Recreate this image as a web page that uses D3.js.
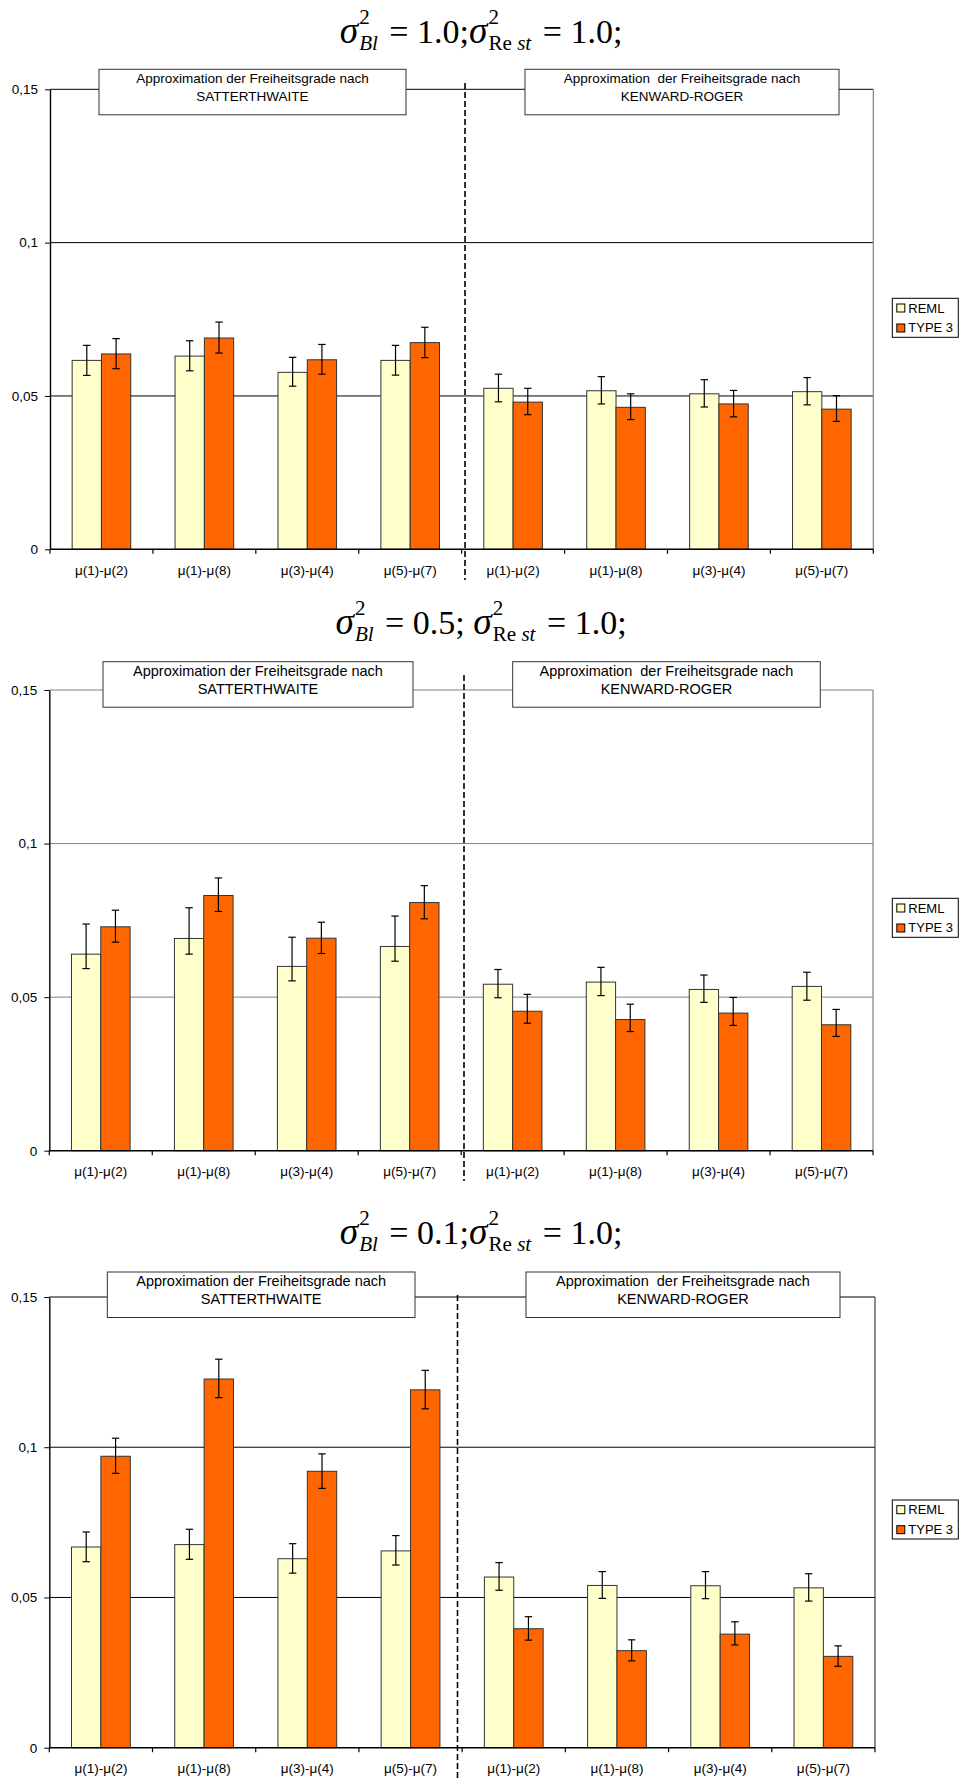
<!DOCTYPE html>
<html>
<head>
<meta charset="utf-8">
<script src="https://cdn.jsdelivr.net/npm/d3@7"></script>
<style>
  body { margin: 0; background: #fff; }
  svg { display: block; }
</style>
</head>
<body>
<div id="chart"></div>
<script>
// categories, series and axis labels
var categories = ["μ(1)-μ(2)", "μ(1)-μ(8)", "μ(3)-μ(4)", "μ(5)-μ(7)",
                  "μ(1)-μ(2) ", "μ(1)-μ(8) ", "μ(3)-μ(4) ", "μ(5)-μ(7) "];
var seriesNames = ["REML", "TYPE 3"];
var yTicks = [0, 0.05, 0.1, 0.15];
var yTickLabels = ["0", "0,05", "0,1", "0,15"];
var blockValues = ["1.0", "0.5", "0.1"];
var restValue = "1.0";
var methodLines = [["Approximation der Freiheitsgrade nach", "SATTERTHWAITE"],
                   ["Approximation  der Freiheitsgrade nach", "KENWARD-ROGER"]];

// sigma_Bl = 1.0
var reml1    = [0.0616, 0.0630, 0.0577, 0.0616, 0.0525, 0.0517, 0.0507, 0.0514];
var reml1Lo  = [0.0567, 0.0582, 0.0532, 0.0568, 0.0481, 0.0474, 0.0464, 0.0471];
var reml1Hi  = [0.0665, 0.0680, 0.0626, 0.0665, 0.0571, 0.0563, 0.0553, 0.0560];
var type31   = [0.0637, 0.0689, 0.0618, 0.0674, 0.0480, 0.0463, 0.0474, 0.0457];
var type31Lo = [0.0589, 0.0640, 0.0571, 0.0625, 0.0439, 0.0423, 0.0432, 0.0417];
var type31Hi = [0.0687, 0.0741, 0.0668, 0.0724, 0.0525, 0.0507, 0.0518, 0.0501];

// sigma_Bl = 0.5
var reml2    = [0.0640, 0.0691, 0.0600, 0.0665, 0.0542, 0.0549, 0.0525, 0.0535];
var reml2Lo  = [0.0593, 0.0640, 0.0553, 0.0617, 0.0498, 0.0505, 0.0483, 0.0490];
var reml2Hi  = [0.0738, 0.0791, 0.0695, 0.0764, 0.0590, 0.0597, 0.0572, 0.0581];
var type32   = [0.0729, 0.0831, 0.0692, 0.0808, 0.0454, 0.0427, 0.0448, 0.0410];
var type32Lo = [0.0679, 0.0779, 0.0642, 0.0755, 0.0415, 0.0388, 0.0408, 0.0372];
var type32Hi = [0.0783, 0.0888, 0.0744, 0.0863, 0.0509, 0.0477, 0.0499, 0.0460];

// sigma_Bl = 0.1
var reml3    = [0.0668, 0.0676, 0.0629, 0.0655, 0.0568, 0.0540, 0.0539, 0.0532];
var reml3Lo  = [0.0619, 0.0627, 0.0581, 0.0608, 0.0524, 0.0497, 0.0496, 0.0488];
var reml3Hi  = [0.0718, 0.0727, 0.0679, 0.0706, 0.0616, 0.0586, 0.0586, 0.0579];
var type33   = [0.0970, 0.1227, 0.0920, 0.1191, 0.0396, 0.0323, 0.0378, 0.0304];
var type33Lo = [0.0913, 0.1165, 0.0863, 0.1128, 0.0358, 0.0289, 0.0342, 0.0271];
var type33Hi = [0.1030, 0.1293, 0.0978, 0.1256, 0.0436, 0.0359, 0.0419, 0.0339];

var colors = {"REML": "#ffffcc", "TYPE 3": "#ff6600"};

//layout of the three stacked charts
var panels = [
    {reml: [reml1, reml1Lo, reml1Hi], type3: [type31, type31Lo, type31Hi], block: blockValues[0], sep: "",
     left: 50, right: 873.3, top: 89.3, bottom: 549.3, titleY: 43,
     dashX: 465, dashY: [83, 580], boxY: 69.3, boxes: [[99, 406], [525, 839]], boxFont: 13.5,
     grid: "#000", border: "#808080", legendY: 298.3},
    {reml: [reml2, reml2Lo, reml2Hi], type3: [type32, type32Lo, type32Hi], block: blockValues[1], sep: " ",
     left: 49.3, right: 873, top: 690, bottom: 1150.7, titleY: 634,
     dashX: 464, dashY: [675, 1181], boxY: 661.7, boxes: [[103, 413], [512.7, 820.3]], boxFont: 14.5,
     grid: "#808080", border: "#808080", legendY: 898.3},
    {reml: [reml3, reml3Lo, reml3Hi], type3: [type33, type33Lo, type33Hi], block: blockValues[2], sep: "",
     left: 49.3, right: 875, top: 1297, bottom: 1747.7, titleY: 1244,
     dashX: 457.5, dashY: [1295, 1780], boxY: 1272, boxes: [[107.3, 415], [526, 840]], boxFont: 14.5,
     grid: "#000", border: "#404040", legendY: 1500}
];

var svg = d3.select("#chart").append("svg")
    .attr("width", 959)
    .attr("height", 1780)
    .style("font-family", "'Liberation Sans', Arial, sans-serif");

panels.forEach(drawPanel);

function drawPanel(p) {
    var g = svg.append("g");

    var x = d3.scaleBand().domain(categories).range([p.left, p.right]).padding(0);
    var xs = d3.scaleBand().domain(seriesNames).range([0, x.bandwidth()])
        .paddingInner(0).paddingOuter(0.756);
    var y = d3.scaleLinear().domain([0, 0.15]).range([p.bottom, p.top]);

    // gridlines
    g.append("g").selectAll("line")
        .data(yTicks.slice(1))
        .enter().append("line")
        .attr("x1", p.left).attr("x2", p.right)
        .attr("y1", function (d) { return y(d); })
        .attr("y2", function (d) { return y(d); })
        .attr("stroke", p.grid)
        .attr("stroke-width", 1);

    // right border of plot area
    g.append("line")
        .attr("x1", p.right).attr("x2", p.right)
        .attr("y1", y(0.15)).attr("y2", y(0))
        .attr("stroke", p.border).attr("stroke-width", 1.2);

    // bars
    var rows = categories.map(function (c, i) {
        return {cat: c, vals: [
            {s: "REML", v: p.reml[0][i], lo: p.reml[1][i], hi: p.reml[2][i]},
            {s: "TYPE 3", v: p.type3[0][i], lo: p.type3[1][i], hi: p.type3[2][i]}
        ]};
    });

    var grp = g.append("g").selectAll("g")
        .data(rows)
        .enter().append("g")
        .attr("transform", function (d) { return "translate(" + x(d.cat) + ",0)"; });

    grp.selectAll("rect")
        .data(function (d) { return d.vals; })
        .enter().append("rect")
        .attr("x", function (d) { return xs(d.s); })
        .attr("y", function (d) { return y(d.v); })
        .attr("width", xs.bandwidth())
        .attr("height", function (d) { return y(0) - y(d.v); })
        .attr("fill", function (d) { return colors[d.s]; })
        .attr("stroke", "#333")
        .attr("stroke-width", 1);

    // error bars
    var eb = grp.selectAll("g.err")
        .data(function (d) { return d.vals; })
        .enter().append("g").attr("class", "err")
        .attr("stroke", "#000").attr("stroke-width", 1.2);

    eb.append("line")
        .attr("x1", function (d) { return xs(d.s) + xs.bandwidth() / 2; })
        .attr("x2", function (d) { return xs(d.s) + xs.bandwidth() / 2; })
        .attr("y1", function (d) { return y(d.lo); })
        .attr("y2", function (d) { return y(d.hi); });

    ["lo", "hi"].forEach(function (k) {
        eb.append("line")
            .attr("x1", function (d) { return xs(d.s) + xs.bandwidth() / 2 - 3.7; })
            .attr("x2", function (d) { return xs(d.s) + xs.bandwidth() / 2 + 3.7; })
            .attr("y1", function (d) { return y(d[k]); })
            .attr("y2", function (d) { return y(d[k]); });
    });

    // y axis
    var yAxis = d3.axisLeft(y)
        .tickValues(yTicks)
        .tickFormat(function (d, i) { return yTickLabels[i]; })
        .tickSize(5).tickSizeOuter(0).tickPadding(7);

    var ya = g.append("g")
        .attr("transform", "translate(" + p.left + ",0)")
        .call(yAxis);
    ya.select(".domain").attr("stroke", "#000").attr("stroke-width", 1.4);
    ya.selectAll(".tick line").attr("stroke", "#000");
    ya.selectAll("text").attr("font-size", 13.5).attr("fill", "#000")
        .style("font-family", "'Liberation Sans', Arial, sans-serif");

    // x axis: labels centered on categories, ticks between categories
    var xAxis = d3.axisBottom(x).tickSize(0).tickPadding(16).tickSizeOuter(0);
    var xa = g.append("g")
        .attr("transform", "translate(0," + p.bottom + ")")
        .call(xAxis);
    xa.select(".domain").remove();
    xa.selectAll("text").attr("font-size", 13.5).attr("fill", "#000")
        .style("font-family", "'Liberation Sans', Arial, sans-serif");

    var bounds = categories.map(function (c) { return x(c); }).concat([p.right]);
    g.append("g").selectAll("line")
        .data(bounds)
        .enter().append("line")
        .attr("x1", function (d) { return d; }).attr("x2", function (d) { return d; })
        .attr("y1", p.bottom).attr("y2", p.bottom + 4.5)
        .attr("stroke", "#000").attr("stroke-width", 1.2);

    g.append("line")
        .attr("x1", p.left).attr("x2", p.right)
        .attr("y1", p.bottom).attr("y2", p.bottom)
        .attr("stroke", "#000").attr("stroke-width", 1.6);

    // dashed separator between the two approximations
    g.append("line")
        .attr("x1", p.dashX).attr("x2", p.dashX)
        .attr("y1", p.dashY[0]).attr("y2", p.dashY[1])
        .attr("stroke", "#000").attr("stroke-width", 1.6)
        .attr("stroke-dasharray", "6,3");

    // method boxes
    p.boxes.forEach(function (b, i) {
        g.append("rect")
            .attr("x", b[0]).attr("y", p.boxY)
            .attr("width", b[1] - b[0]).attr("height", 45.5)
            .attr("fill", "#fff").attr("stroke", "#333").attr("stroke-width", 1);
        methodLines[i].forEach(function (t, j) {
            g.append("text")
                .attr("x", (b[0] + b[1]) / 2)
                .attr("y", p.boxY + 14 + j * 18)
                .attr("text-anchor", "middle")
                .attr("font-size", p.boxFont)
                .style("white-space", "pre")
                .text(t);
        });
    });

    // legend
    var lg = g.append("g").attr("transform", "translate(892.3," + p.legendY + ")");
    lg.append("rect").attr("width", 66).attr("height", 39)
        .attr("fill", "#fff").attr("stroke", "#000").attr("stroke-width", 1);
    seriesNames.forEach(function (s, i) {
        lg.append("rect")
            .attr("x", 4.5).attr("y", 5.7 + i * 20)
            .attr("width", 8).attr("height", 8)
            .attr("fill", colors[s]).attr("stroke", "#000").attr("stroke-width", 1);
        lg.append("text")
            .attr("x", 16).attr("y", 14.4 + i * 19.3)
            .attr("font-size", 13)
            .text(s);
    });

    drawTitle(p);
}

//builds the sigma formula piece by piece, then centers it
function drawTitle(p) {
    var F = 34, s = F * 0.62;
    var t = svg.append("g").style("font-family", "'Liberation Serif', 'Times New Roman', serif");
    var cx = 0;

    function piece(str, size, dy, italic) {
        var el = t.append("text")
            .attr("x", cx).attr("y", p.titleY + dy)
            .attr("font-size", size)
            .style("font-style", italic ? "italic" : "normal")
            .style("white-space", "pre")
            .text(str);
        return el.node().getComputedTextLength();
    }

    function sigma(subParts) {
        cx += piece("σ", F * 1.1, 0, true) + 1;
        var start = cx;
        piece("2", s, -F * 0.55, false);
        var w = 0;
        subParts.forEach(function (sp) {
            cx = start + w;
            w += piece(sp[0], s, F * 0.2, sp[1]);
        });
        cx = start + w + 3;
    }

    sigma([["Bl", true]]);
    cx += piece(" = " + p.block + ";" + p.sep, F, 0, false);
    sigma([["Re", false], [" st", true]]);
    cx += piece(" = " + restValue + ";", F, 0, false);

    t.attr("transform", "translate(" + (481 - cx / 2) + ",0)");
}
</script>
</body>
</html>
